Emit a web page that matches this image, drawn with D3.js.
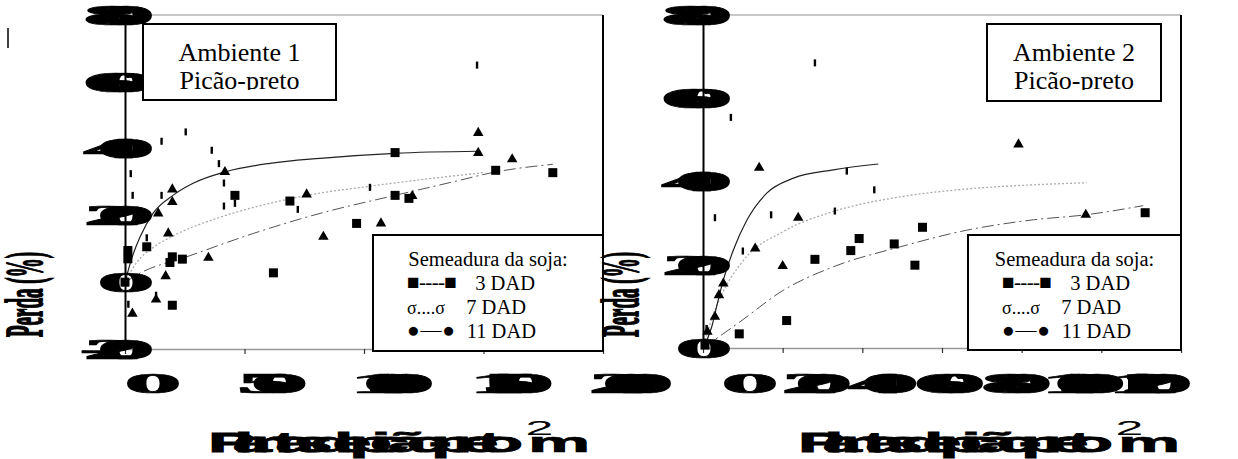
<!DOCTYPE html>
<html>
<head>
<meta charset="utf-8">
<script src="https://cdn.jsdelivr.net/npm/d3@7"></script>
<style>
  html, body { margin: 0; padding: 0; background: #fff; }
  svg { display: block; }
</style>
</head>
<body>
<svg id="chart" width="1238" height="459"></svg>
<script>
// ---------------- data: Ambiente 1 ----------------
const amb1XTicks = [0, 50, 100, 150, 200];
const amb1YTicks = [-20, 0, 20, 40, 60, 80];
// observed points [density, response]
const amb1Pts3 = [[0,0],[1.2,9.5],[1.2,7.0],[9.1,10.6],[19.8,7.6],[18.8,5.9],[24.0,6.9],[19.8,-6.9],[46.0,26.0],[69.0,24.3],[62.1,2.8],[96.9,17.6],[113.0,26.0],[118.8,25.1],[113.0,38.8],[155.1,33.5],[179.0,32.8]];
const amb1Pts7 = [[147.8,44.7],[147.8,38.7],[162.0,36.8],[41.8,33.0],[19.8,27.8],[19.8,24.0],[13.9,20.6],[76.0,26.3],[120.2,25.8],[107.1,17.6],[83.0,13.6],[18.1,14.6],[34.9,7.3],[17.0,1.8],[13.0,-5.2],[3.1,-9.4]];
const amb1Pts11 = [[147.3,65.0],[25.4,45.0],[15.3,42.2],[36.3,39.5],[39.3,35.5],[41.4,29.7],[41.4,22.8],[2.4,32.5],[3.2,26.0],[15.3,26.0],[46.0,23.6],[72.3,21.8],[102.5,28.4],[9.1,13.3],[13.0,-3.9],[1.4,-6.6]];
// fitted response curves
const amb1Fit3 = [[0,0],[6.3,2.7],[25.8,7.6],[53.7,14.6],[81.6,20.6],[113,26.0],[137,30.0],[155,33.0],[179,35.3]];
const amb1Fit7 = [[0,0],[5,6.0],[12,10.5],[20,13.8],[40,19.5],[60,23.5],[80,26.5],[100,28.5],[125,30.8],[150,32.8]];
const amb1Fit11 = [[0,0],[3,7.5],[6.3,13.5],[11.7,20.6],[20.1,26.0],[28.5,29.6],[41.8,33.0],[60.7,35.6],[81.6,37.1],[113,38.6],[147.8,39.2]];

// ---------------- data: Ambiente 2 ----------------
const amb2XTicks = [0, 20, 40, 60, 80, 100, 120];
const amb2YTicks = [0, 20, 40, 60, 80];
const amb2Pts3 = [[0.5,0.7],[9.1,3.4],[21.0,6.6],[28.1,21.3],[37.1,23.4],[39.2,26.3],[48.0,25.0],[53.2,19.9],[55.1,29.0],[111.0,32.5]];
const amb2Pts7 = [[79.2,48.9],[14.1,43.3],[23.9,31.3],[96.1,32.0],[13.1,23.9],[20.0,19.7],[5.1,15.5],[4.0,12.7],[3.0,7.5],[1.1,3.9]];
const amb2Pts11 = [[28.1,68.5],[7.0,55.4],[36.1,42.5],[43.0,38.0],[17.1,32.0],[33.1,32.9],[3.0,31.3],[10.0,23.3],[0.9,4.7]];
const amb2Fit3 = [[0,0],[9.3,6.3],[20.2,13.9],[32.7,19.5],[49.5,24.3],[66.2,28.3],[83,30.8],[96.1,32.0],[110.5,34.2]];
const amb2Fit7 = [[0,0],[2,6.5],[4.3,12.0],[10.1,21.0],[20.2,28.0],[32.7,32.8],[49.5,36.3],[66.2,38.2],[83,39.2],[96.3,39.7]];
const amb2Fit11 = [[0,0],[2.2,5.1],[3.4,9.9],[5.1,16.3],[7.6,23.5],[11,30.7],[16,37.2],[22.7,40.8],[32.7,42.8],[44,44.2]];

// ---------------- texts ----------------
const panelTitles = [["Ambiente 1", "Picão-preto"], ["Ambiente 2", "Picão-preto"]];
const legendTitle = "Semeadura da soja:";
const legendSymbols = ["■----■", "σ....σ", "●—●"];
const legendLabels = ["3 DAD", "7 DAD", "11 DAD"];
const xTitle = "Plantas de picão-preto";
const xTitleUnit = "m";
const xTitleSup = "2";
const yTitle = "Perda (%)";

// ---------------- layout ----------------
const svg = d3.select("#chart");
svg.append("rect").attr("width", 1238).attr("height", 459).attr("fill", "#fff");

const panels = [
  { left: 125, right: 603, top: 15, bottom: 349, xDom: [0, 200], yDom: [-20, 80],
    xTicks: amb1XTicks, yTicks: amb1YTicks,
    pts3: amb1Pts3, pts7: amb1Pts7, pts11: amb1Pts11,
    fit3: amb1Fit3, fit7: amb1Fit7, fit11: amb1Fit11,
    labelRange: [153, 631], titleBox: [143, 24, 193, 76],
    legendBox: [373, 235, 230, 116], legendRowX: 407,
    yTitleX: 42, xTitleX: 208, title: panelTitles[0] },
  { left: 703, right: 1181, top: 15, bottom: 348, xDom: [0, 120], yDom: [0, 80],
    xTicks: amb2XTicks, yTicks: amb2YTicks,
    pts3: amb2Pts3, pts7: amb2Pts7, pts11: amb2Pts11,
    fit3: amb2Fit3, fit7: amb2Fit7, fit11: amb2Fit11,
    labelRange: [750, 1150], titleBox: [987, 24, 174, 77],
    legendBox: [968, 235, 213, 115], legendRowX: 1002,
    yTitleX: 638, xTitleX: 798, title: panelTitles[1] }
];

const serif = "'Liberation Serif', 'Times New Roman', serif";
const LBL = { fs: 29, sx: 4.0, step: 3.5 };

// wide, overlapping bold digits used for tick labels
function blobLabel(g, str, cx, cy) {
  const n = str.length;
  const grp = g.append("g").attr("transform", `translate(${cx},${cy}) scale(${LBL.sx},1)`);
  str.split("").forEach((ch, i) => {
    grp.append("text")
      .attr("x", (i - (n - 1) / 2) * LBL.step)
      .attr("y", LBL.fs * 0.34)
      .attr("text-anchor", "middle")
      .style("font", `bold ${LBL.fs}px ${serif}`)
      .attr("fill", "#000")
      .attr("stroke", "#000").attr("stroke-width", 0.7)
      .text(ch);
  });
}

const legendSymWidth = [50, 38, 48];
const legendLabelEnd = [128, 119, 129];
const legendRowY = [290, 314, 338];

panels.forEach((p, pi) => {
  const x = d3.scaleLinear().domain(p.xDom).range([p.left, p.right]);
  const y = d3.scaleLinear().domain(p.yDom).range([p.bottom, p.top]);
  const labelX = d3.scaleLinear().domain(p.xDom).range(p.labelRange);
  const g = svg.append("g");

  // frame: light top edge, dark right edge
  g.append("line").attr("x1", p.left).attr("x2", p.right).attr("y1", p.top).attr("y2", p.top)
    .attr("stroke", "#c8c8c8").attr("stroke-width", 2);
  g.append("line").attr("x1", p.right).attr("x2", p.right).attr("y1", p.top).attr("y2", p.bottom)
    .attr("stroke", "#000").attr("stroke-width", 2);

  // bottom axis
  const xAxis = d3.axisBottom(x).tickValues(p.xTicks).tickSize(5).tickSizeOuter(0).tickFormat("");
  const ax = g.append("g").attr("transform", `translate(0,${p.bottom})`).call(xAxis);
  ax.select(".domain").attr("stroke", "#999").attr("stroke-width", 1.5);
  ax.selectAll(".tick line").attr("stroke", "#333").attr("stroke-width", 1.2);

  // fitted curves
  const line = d3.line().x(d => x(d[0])).y(d => y(d[1])).curve(d3.curveMonotoneX);
  g.append("path").datum(p.fit3).attr("d", line).attr("fill", "none")
    .attr("stroke", "#555").attr("stroke-width", 1).attr("stroke-dasharray", "12,4,2,4");
  g.append("path").datum(p.fit7).attr("d", line).attr("fill", "none")
    .attr("stroke", "#aaa").attr("stroke-width", 1.3).attr("stroke-dasharray", "2,2");
  g.append("path").datum(p.fit11).attr("d", line).attr("fill", "none")
    .attr("stroke", "#222").attr("stroke-width", 1.2);

  // markers
  g.selectAll(null).data(p.pts3).join("rect")
    .attr("x", d => x(d[0]) - 4.5).attr("y", d => y(d[1]) - 4.5)
    .attr("width", 9).attr("height", 9).attr("fill", "#000");
  const tri = d3.symbol().type(d3.symbolTriangle).size(48);
  g.selectAll(null).data(p.pts7).join("path")
    .attr("d", tri).attr("transform", d => `translate(${x(d[0])},${y(d[1])})`).attr("fill", "#000");
  g.selectAll(null).data(p.pts11).join("rect")
    .attr("x", d => x(d[0]) - 1.2).attr("y", d => y(d[1]) - 3.5)
    .attr("width", 2.4).attr("height", 7).attr("fill", "#000");

  // vertical axis
  const yAxis = d3.axisLeft(y).tickValues(p.yTicks).tickSize(0).tickFormat("");
  const ay = g.append("g").attr("transform", `translate(${p.left},0)`).call(yAxis);
  ay.select(".domain").attr("stroke", "#000").attr("stroke-width", 2);

  // tick labels
  const halfDigit = 0.25 * LBL.fs * LBL.sx;
  p.yTicks.forEach(v => {
    const s = String(v);
    const cx = p.left + 30 - halfDigit - (s.length - 1) / 2 * LBL.step * LBL.sx;
    blobLabel(g, s, cx, y(v));
  });
  p.xTicks.forEach(v => blobLabel(g, String(v), labelX(v), 383));

  // title box
  const [bx, by, bw, bh] = p.titleBox;
  g.append("rect").attr("x", bx).attr("y", by).attr("width", bw).attr("height", bh)
    .attr("fill", "#fff").attr("stroke", "#000").attr("stroke-width", 2);
  const clipId = "tclip" + pi;
  svg.append("clipPath").attr("id", clipId).append("rect")
    .attr("x", bx).attr("y", by).attr("width", bw).attr("height", 90 - by);
  const tg = g.append("g").attr("clip-path", `url(#${clipId})`);
  tg.append("text").attr("x", bx + bw / 2).attr("y", 61).attr("text-anchor", "middle")
    .style("font", `26px ${serif}`).text(p.title[0]);
  tg.append("text").attr("x", bx + bw / 2).attr("y", 89).attr("text-anchor", "middle")
    .style("font", `26px ${serif}`).text(p.title[1]);

  // legend
  const [lx, ly, lw, lh] = p.legendBox;
  g.append("rect").attr("x", lx).attr("y", ly).attr("width", lw).attr("height", lh)
    .attr("fill", "#fff").attr("stroke", "#000").attr("stroke-width", 2);
  g.append("text").attr("x", lx + lw / 2).attr("y", 266).attr("text-anchor", "middle")
    .style("font", `20.5px ${serif}`).text(legendTitle);
  legendSymbols.forEach((sym, i) => {
    g.append("text").attr("x", p.legendRowX).attr("y", legendRowY[i] - (i === 1 ? 0 : 1))
      .attr("textLength", legendSymWidth[i]).attr("lengthAdjust", "spacing")
      .style("font", `${i === 1 ? 18 : 21}px ${serif}`).style("white-space", "pre").text(sym);
    g.append("text").attr("x", p.legendRowX + legendLabelEnd[i]).attr("y", legendRowY[i])
      .attr("text-anchor", "end")
      .style("font", `20.5px ${serif}`).text(legendLabels[i]);
  });

  // axis titles: heavy, overlapping glyphs
  const yt = g.append("g").attr("transform", `translate(${p.yTitleX},337) rotate(-90) scale(1,1.15)`);
  yt.append("text").attr("x", 0).attr("y", 0)
    .attr("textLength", 85).attr("lengthAdjust", "spacingAndGlyphs")
    .attr("stroke", "#000").attr("stroke-width", 1.6)
    .style("font", `bold 46px ${serif}`).text(yTitle);

  const xt = g.append("g").attr("transform", `translate(${p.xTitleX},452) scale(2.5,1)`);
  xt.append("text").attr("x", 0).attr("y", 0)
    .attr("textLength", 126).attr("lengthAdjust", "spacing")
    .attr("stroke", "#000").attr("stroke-width", 0.8)
    .style("font", "bold 28px 'Liberation Sans', Arial, sans-serif").text(xTitle);
  xt.append("text").attr("x", 128).attr("y", 0)
    .attr("stroke", "#000").attr("stroke-width", 0.6)
    .style("font", "bold 28px 'Liberation Sans', Arial, sans-serif").text(xTitleUnit);
  xt.append("text").attr("x", 127).attr("y", -17)
    .style("font", "20px 'Liberation Sans', Arial, sans-serif").text(xTitleSup);
});

// small stray mark at upper left
svg.append("line").attr("x1", 8).attr("x2", 8).attr("y1", 28).attr("y2", 48)
  .attr("stroke", "#000").attr("stroke-width", 1.5);
</script>
</body>
</html>
